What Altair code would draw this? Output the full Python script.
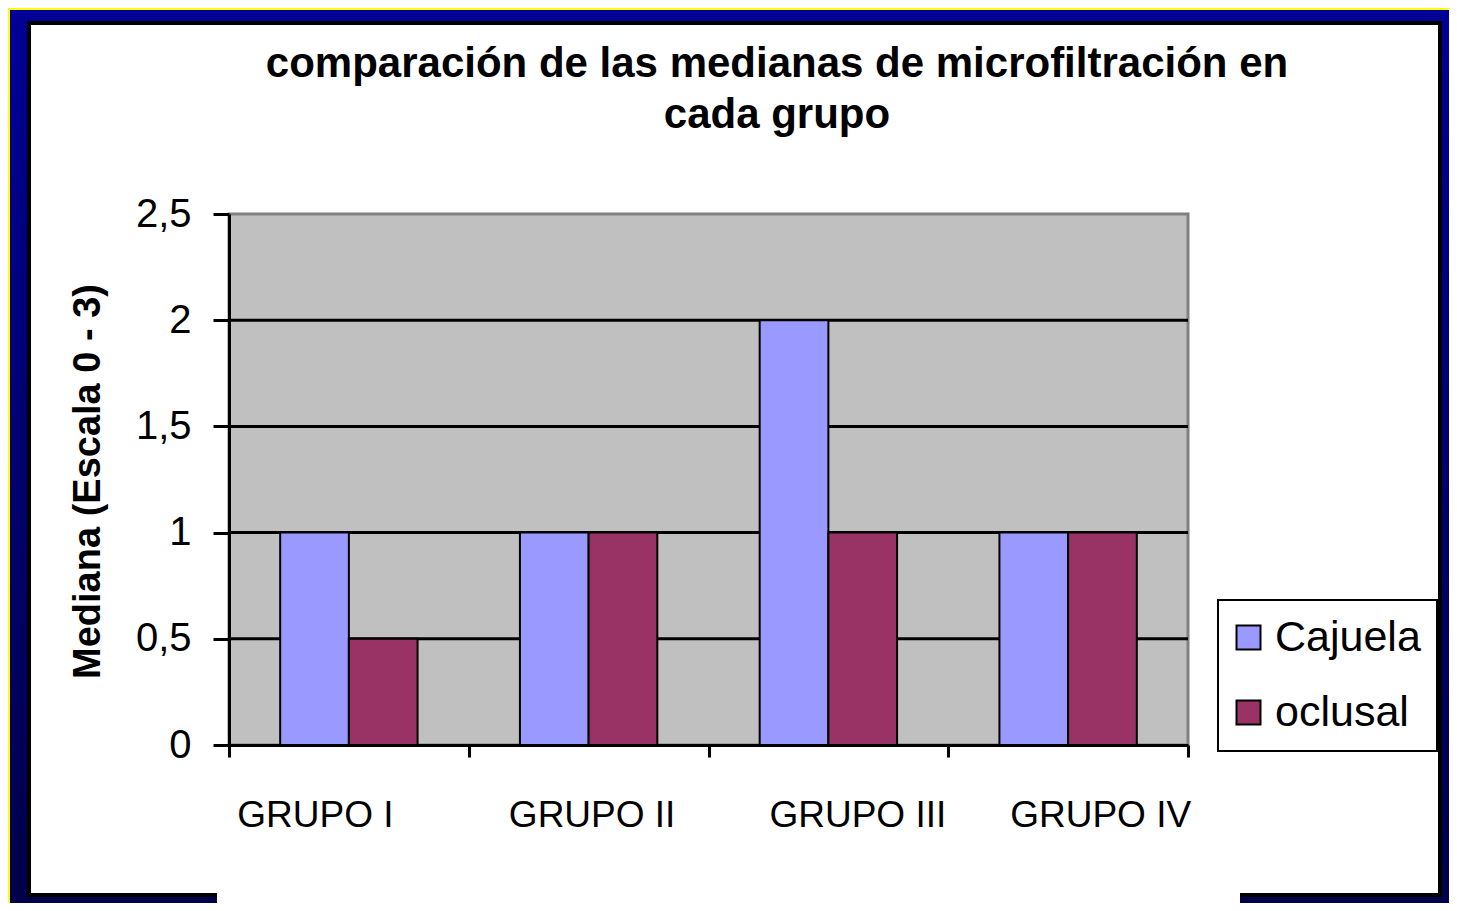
import altair as alt
import pandas as pd

# ---- data ----
grupos = ["GRUPO I", "GRUPO II", "GRUPO III", "GRUPO IV"]
series = ["Cajuela", "oclusal"]
cajuela = [1, 1, 2, 1]
oclusal = [0.5, 1, 1, 1]
y_ticks = [0, 0.5, 1, 1.5, 2, 2.5]
colores = ["#9999FF", "#993366"]
titulo = ["comparación de las medianas de microfiltración en", "cada grupo"]
eje_y = "Mediana (Escala 0 - 3)"
label_dx = [-34, 3, 29, 32]

rows = []
for g, c, o in zip(grupos, cajuela, oclusal):
    rows.append({"grupo": g, "serie": series[0], "valor": c})
    rows.append({"grupo": g, "serie": series[1], "valor": o})
df = pd.DataFrame(rows)
grid_df = pd.DataFrame({"valor": y_ticks[1:-1]})
one = pd.DataFrame({"k": [0]})

FONT = "Liberation Sans"
W, H = 959, 531
PAD = {"left": 221, "top": 206, "right": 261, "bottom": 158}
CW = W + PAD["left"] + PAD["right"]
CH = H + PAD["top"] + PAD["bottom"]

yscale = alt.Scale(domain=[y_ticks[0], y_ticks[-1]], nice=False, zero=True)
yaxis = alt.Axis(values=y_ticks, labelExpr="replace(toString(datum.value), '.', ',')",
                 labelFont=FONT, labelFontSize=40, labelColor="black", labelPadding=22,
                 tickSize=16, tickWidth=3, tickColor="black",
                 domainColor="black", domainWidth=3, grid=False, zindex=1,
                 title=eje_y, titleFont=FONT, titleFontSize=38, titleFontWeight="bold",
                 titleColor="black", titleAngle=270, titleX=-141, titleY=267,
                 titleAlign="center", titleBaseline="middle")

# ---- decoration (slide frame) ----
fondo = alt.Chart(one).mark_rect(
    color=alt.LinearGradient(
        gradient="linear", x1=0, x2=0, y1=0, y2=1,
        stops=[alt.GradientStop(color="#000096", offset=0),
               alt.GradientStop(color="#00004A", offset=1)],
    )
).encode(x=alt.value(-PAD["left"]), x2=alt.value(CW - PAD["left"]),
         y=alt.value(-PAD["top"]), y2=alt.value(CH - PAD["top"]))

amarillo_v = alt.Chart(one).mark_rule(color="#FFFF00", strokeWidth=2).encode(
    x=alt.value(-PAD["left"] + 1), y=alt.value(-PAD["top"]), y2=alt.value(CH - PAD["top"]))
amarillo_h = alt.Chart(one).mark_rule(color="#FFFF00", strokeWidth=2).encode(
    y=alt.value(-PAD["top"] + 1), x=alt.value(-PAD["left"]), x2=alt.value(CW - PAD["left"]))

panel = alt.Chart(one).mark_rect(fill="white", stroke="black", strokeWidth=4).encode(
    x=alt.value(-200), x2=alt.value(1211), y=alt.value(-191), y2=alt.value(681))
franja = alt.Chart(one).mark_rect(fill="white").encode(
    x=alt.value(-12), x2=alt.value(1011), y=alt.value(676), y2=alt.value(CH - PAD["top"]))

plot_bg = alt.Chart(one).mark_rect(fill="#C0C0C0", stroke="#808080", strokeWidth=3).encode(
    x=alt.value(0), x2=alt.value(W), y=alt.value(0), y2=alt.value(H))

grid = alt.Chart(grid_df).mark_rule(color="black", strokeWidth=3).encode(
    y=alt.Y("valor:Q", scale=yscale, axis=yaxis), x=alt.value(0), x2=alt.value(W))

# ---- title (two text lines) ----
def linea_titulo(texto, ypos):
    return alt.Chart(pd.DataFrame({"t": [texto]})).mark_text(
        font=FONT, fontSize=42, fontWeight="bold", color="black",
        align="center", baseline="alphabetic"
    ).encode(text="t:N", x=alt.value(548), y=alt.value(ypos))

titulo1 = linea_titulo(titulo[0], -137)
titulo2 = linea_titulo(titulo[1], -86)

# ---- bars ----
label_cond = [{"test": "datum.value === '%s'" % g, "value": d} for g, d in zip(grupos, label_dx)]
bars = alt.Chart(df).mark_bar(stroke="black", strokeWidth=2).encode(
    x=alt.X("grupo:N", sort=grupos,
            scale=alt.Scale(paddingInner=0, paddingOuter=0),
            axis=alt.Axis(title=None, labelFont=FONT, labelFontSize=37, labelColor="black",
                          labelAngle=0, labelPadding=40, tickSize=12, tickWidth=3,
                          labelLimit=500,
                          labelOffset={"condition": label_cond, "value": 0},
                          tickColor="black", tickBand="extent",
                          domainColor="black", domainWidth=3, grid=False, zindex=1)),
    xOffset=alt.XOffset("serie:N", sort=series,
                        scale=alt.Scale(paddingOuter=0.745, paddingInner=0)),
    y=alt.Y("valor:Q", scale=yscale, axis=yaxis),
    color=alt.Color("serie:N", sort=series,
                    scale=alt.Scale(domain=series, range=colores),
                    legend=alt.Legend(title=None, orient="none", legendX=989, legendY=386,
                                      fillColor="white", strokeColor="black", padding=16,
                                      labelFont=FONT, labelFontSize=43, labelColor="black",
                                      symbolType="square", symbolSize=576, symbolOffset=-7,
                                      symbolStrokeColor="black", symbolStrokeWidth=2,
                                      rowPadding=31, labelOffset=5)),
)

chart = alt.layer(fondo, amarillo_v, amarillo_h, panel, franja, plot_bg, grid, bars,
                  titulo1, titulo2).properties(
    width=W, height=H, padding=PAD,
    autosize=alt.AutoSizeParams(type="none"),
    background="#000080",
).configure_view(stroke=None).configure_legend(strokeWidth=2)

chart.save("out.html", embed_options={"renderer": "svg", "actions": False})
